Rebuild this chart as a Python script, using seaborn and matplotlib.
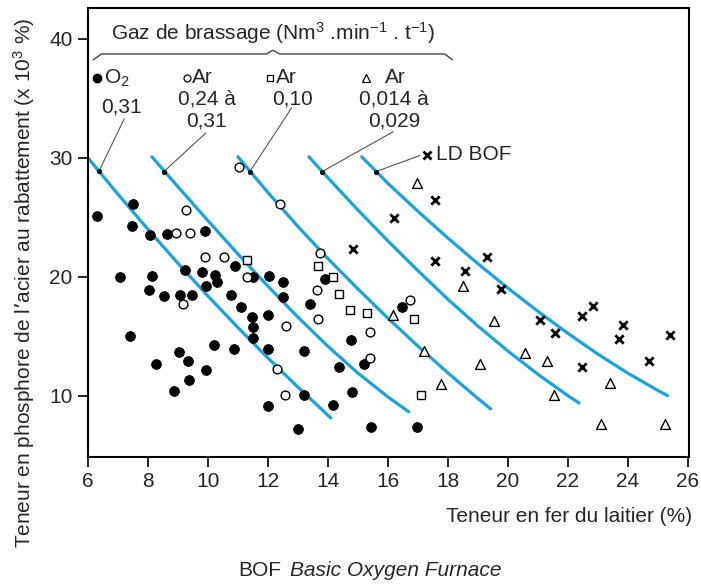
import matplotlib
matplotlib.use("Agg")
import matplotlib.pyplot as plt
import seaborn as sns

# O2 0,31 (filled circles)
o2_x = [6.31, 7.51, 7.46, 8.08, 8.63, 9.91, 7.08, 8.13, 9.24, 9.8, 10.23, 10.32, 9.92,
        8.02, 8.52, 9.06, 9.46, 10.91, 10.76, 11.52, 12.04, 12.49, 12.49, 11.12, 11.47,
        11.51, 11.51, 11.99, 13.42, 13.9, 7.41, 10.22, 10.86, 12.02, 13.22, 9.04, 8.26,
        9.34, 9.93, 9.36, 8.88, 14.79, 14.37, 15.2, 13.2, 12.02, 14.18, 14.8, 13.0,
        15.43, 16.46, 16.99]
o2_y = [25.1, 26.1, 24.3, 23.5, 23.6, 23.9, 20.0, 20.1, 20.6, 20.4, 20.2, 19.6, 19.2,
        18.9, 18.4, 18.5, 18.5, 20.9, 18.5, 20.0, 20.1, 19.6, 18.3, 17.5, 16.6,
        15.8, 14.9, 16.8, 17.7, 19.8, 15.0, 14.3, 13.95, 13.95, 13.8, 13.7, 12.7,
        12.9, 12.2, 11.3, 10.4, 14.7, 12.4, 12.7, 10.1, 9.16, 9.2, 10.3, 7.25,
        7.4, 17.5, 7.36]

# Ar 0,24 a 0,31 (open circles)
ar_a_x = [11.03, 12.4, 9.26, 8.94, 9.39, 9.91, 10.54, 11.29, 9.18, 13.73, 13.63, 13.67,
          12.6, 15.41, 15.42, 12.3, 12.58, 16.73]
ar_a_y = [29.2, 26.1, 25.6, 23.7, 23.7, 21.7, 21.7, 20.0, 17.7, 22.0, 18.9, 16.5,
          15.9, 15.4, 13.2, 12.3, 10.1, 18.1]

# Ar 0,10 (squares)
ar_b_x = [11.29, 13.66, 14.18, 14.38, 14.74, 15.3, 16.88, 17.12]
ar_b_y = [21.4, 20.9, 20.0, 18.6, 17.2, 17.0, 16.5, 10.1]

# Ar 0,014 a 0,029 (triangles)
ar_c_x = [16.98, 18.51, 16.16, 19.54, 17.21, 19.07, 20.58, 21.31, 17.78, 21.54, 23.43,
          23.12, 25.26]
ar_c_y = [27.9, 19.2, 16.8, 16.3, 13.8, 12.7, 13.6, 12.9, 11.0, 10.1, 11.1, 7.65, 7.65]

# LD BOF (crosses)
ld_x = [17.57, 16.22, 14.83, 17.59, 19.32, 18.58, 19.77, 21.08, 21.57, 22.49, 22.86,
        23.86, 23.7, 25.4, 24.73, 22.48]
ld_y = [26.5, 24.96, 22.35, 21.3, 21.7, 20.5, 19.0, 16.4, 15.3, 16.7, 17.6,
        16.0, 14.8, 15.1, 12.9, 12.4]

# blue curves
c1_x = [6.0, 7.0, 8.0, 9.0, 10.0, 11.0, 12.0, 13.0, 14.1]
c1_y = [30.0, 26.95, 24.0, 21.15, 18.4, 15.75, 13.2, 10.75, 8.15]
c2_x = [8.13, 9.0, 10.0, 11.0, 12.0, 13.0, 14.0, 15.0, 16.0, 16.7]
c2_y = [30.1, 27.58, 24.73, 21.93, 19.23, 16.63, 14.18, 11.93, 9.93, 8.67]
c3_x = [11.0, 12.0, 13.0, 14.0, 15.0, 16.0, 17.0, 18.0, 19.0, 19.43]
c3_y = [30.1, 27.1, 24.25, 21.55, 19.0, 16.55, 14.2, 11.95, 9.8, 8.92]
c4_x = [13.37, 14.0, 15.0, 16.0, 17.0, 18.0, 19.0, 20.0, 21.0, 22.0, 22.38]
c4_y = [30.1, 28.34, 25.64, 23.04, 20.54, 18.14, 15.89, 13.79, 11.84, 10.04, 9.41]
c5_x = [15.13, 16.0, 17.0, 18.0, 19.0, 20.0, 21.0, 22.0, 23.0, 24.0, 25.0, 25.33]
c5_y = [30.1, 27.88, 25.53, 23.28, 21.13, 19.08, 17.13, 15.28, 13.53, 11.93, 10.48, 10.03]
curves = [(c1_x, c1_y), (c2_x, c2_y), (c3_x, c3_y), (c4_x, c4_y), (c5_x, c5_y)]

# small black dots on the curves and the label ends of their leader lines
dot_x = [6.37, 8.53, 11.4, 13.81, 15.6]
dot_y = [28.9, 28.85, 28.85, 28.85, 28.85]
lead_x = [7.21, 9.93, 12.79, 16.18, 17.07]
lead_y = [33.3, 32.1, 34.2, 32.2, 30.2]

sns.set_theme(style="white")
plt.rcParams["font.family"] = ["Liberation Sans", "DejaVu Sans"]
plt.rcParams["mathtext.default"] = "regular"

fig = plt.figure(figsize=(7.01, 5.84), dpi=100)
ax = fig.add_axes([88 / 701, 1 - 457 / 584, 601 / 701, 449 / 584])

blue = "#1aa3de"
for cx, cy in curves:
    sns.lineplot(x=cx, y=cy, sort=False, estimator=None, color=blue, lw=2.3, ax=ax)

for dx, dy, lx, ly in zip(dot_x, dot_y, lead_x, lead_y):
    ax.plot([dx, lx], [dy, ly], color="#555555", lw=0.8, zorder=4)
sns.scatterplot(x=dot_x, y=dot_y, s=12, color="black", edgecolor="black", ax=ax, zorder=5)

sns.scatterplot(x=o2_x, y=o2_y, marker="o", s=50, color="black", edgecolor="black", ax=ax, zorder=6)
sns.scatterplot(x=ar_a_x, y=ar_a_y, marker="o", s=40, facecolor="white", edgecolor="black",
                linewidth=1.0, ax=ax, zorder=6)
sns.scatterplot(x=ar_b_x, y=ar_b_y, marker="s", s=34, facecolor="white", edgecolor="black",
                linewidth=1.0, ax=ax, zorder=6)
sns.scatterplot(x=ar_c_x, y=ar_c_y, marker="^", s=50, facecolor="white", edgecolor="black",
                linewidth=1.0, ax=ax, zorder=6)
sns.scatterplot(x=ld_x, y=ld_y, marker="x", s=36, color="black", linewidth=2.0, ax=ax, zorder=6)

# hand-made legend
fs = 15
ax.text(12.16, 40.5, "Gaz de brassage (Nm$^3$ .min$^{-1}$ . t$^{-1}$)", fontsize=fs,
        ha="center", va="center")
ax.plot([6.18, 6.45, 11.95, 12.17, 12.39, 17.9, 18.16],
        [38.25, 38.74, 38.74, 39.05, 38.74, 38.74, 38.25], color="#444444", lw=1.0)

row1, row2, row3 = 36.72, 34.96, 33.1
ax.plot(6.3, row1, "o", color="black", ms=6)
ax.text(6.55, row1, "O$_2$", fontsize=fs, va="center")
ax.text(7.13, 34.3, "0,31", fontsize=fs, ha="center", va="center")
ax.plot(9.3, row1, "o", mfc="white", mec="black", ms=5, mew=0.9)
ax.text(9.46, row1, "Ar", fontsize=fs, va="center")
ax.text(9.96, row2, "0,24 à", fontsize=fs, ha="center", va="center")
ax.text(9.96, row3, "0,31", fontsize=fs, ha="center", va="center")
ax.plot(12.08, row1, "s", mfc="white", mec="black", ms=5, mew=0.9)
ax.text(12.28, row1, "Ar", fontsize=fs, va="center")
ax.text(12.82, row2, "0,10", fontsize=fs, ha="center", va="center")
ax.plot(15.28, row1, "^", mfc="white", mec="black", ms=5.5, mew=0.9)
ax.text(15.9, row1, "Ar", fontsize=fs, va="center")
ax.text(16.22, row2, "0,014 à", fontsize=fs, ha="center", va="center")
ax.text(16.22, row3, "0,029", fontsize=fs, ha="center", va="center")
ax.plot(17.32, 30.25, "x", color="black", ms=6, mew=2.0)
ax.text(17.6, 30.25, "LD BOF", fontsize=fs, va="center")

ax.set_xlim(6, 26.05)
ax.set_ylim(4.87, 42.6)
ax.set_xticks([6, 8, 10, 12, 14, 16, 18, 20, 22, 24, 26])
ax.set_yticks([10, 20, 30, 40])
ax.tick_params(axis="both", direction="out", length=7, width=1.2, color="black",
               labelsize=15, bottom=True, left=True, pad=4)
for lab in ax.get_xticklabels() + ax.get_yticklabels():
    lab.set_family(["Liberation Sans Narrow", "Liberation Sans", "DejaVu Sans"])
for sp in ax.spines.values():
    sp.set_color("black")
    sp.set_linewidth(1.5)

fig.text(692 / 701, 1 - 516 / 584, "Teneur en fer du laitier (%)", fontsize=fs,
         ha="right", va="center")
fig.text(24 / 701, 1 - 283 / 584, "Teneur en phosphore de l’acier au rabattement (x 10$^3$ %)",
         fontsize=fs, rotation=90, ha="center", va="center")
fig.text(281 / 701, 1 - 570 / 584, "BOF", fontsize=fs, ha="right", va="center")
fig.text(290 / 701, 1 - 570 / 584, "Basic Oxygen Furnace", fontsize=fs, style="italic",
         ha="left", va="center")

fig.savefig("out.png", dpi=100)
